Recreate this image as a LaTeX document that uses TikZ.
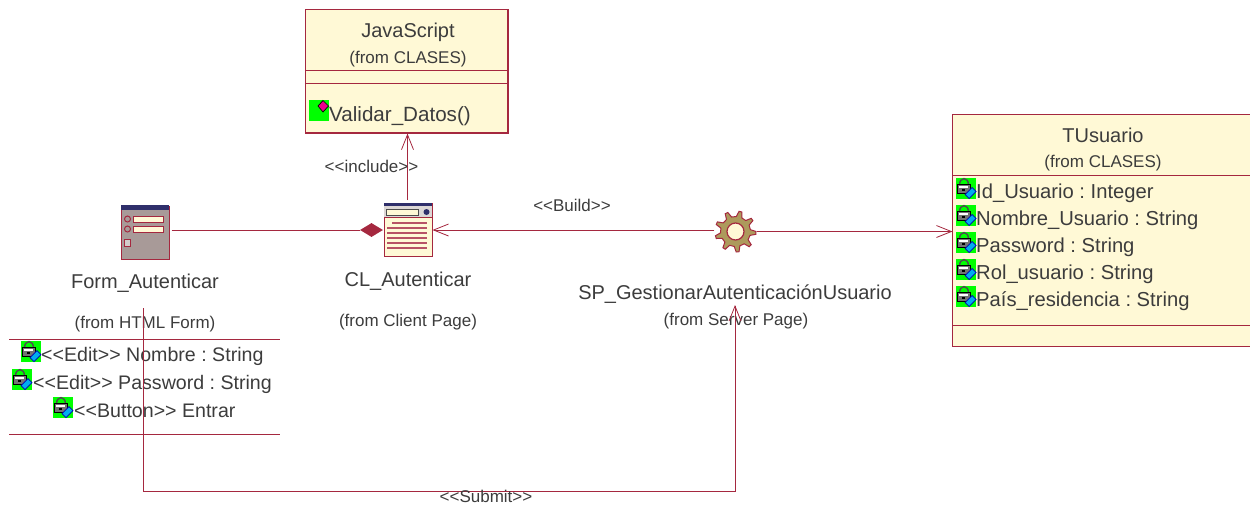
\documentclass[tikz,border=0pt]{standalone}
\usepackage{fontspec}
\setmainfont{Liberation Sans}
\frenchspacing
\usetikzlibrary{arrows.meta,shapes.geometric}
\definecolor{umlline}{HTML}{A5283F}
\definecolor{umlfill}{HTML}{FFF9D6}
\definecolor{umltext}{HTML}{3C3C3C}
\definecolor{umlnavy}{HTML}{2F2F6B}
\definecolor{umlgrey}{HTML}{A89A98}
\definecolor{umlgear}{HTML}{AD9A5C}
\tikzset{
  x=1pt,y=-1pt,
  umlbox/.style={draw=umlline,fill=umlfill,line width=1.1pt,rectangle,inner sep=0pt},
  conn/.style={draw=umlline,line width=0.9pt},
  openarrow/.style={conn,-{Straight Barb[length=15pt,width=12pt,line width=0.8pt]}},
  sep/.style={draw=umlline,line width=0.9pt},
  big/.style={font=\fontsize{20}{22}\selectfont,text=umltext,inner sep=0pt,anchor=base},
  mid/.style={font=\fontsize{17}{19}\selectfont,text=umltext,inner sep=0pt,anchor=base},
  attr/.style={font=\fontsize{20.2}{22}\selectfont,text=umltext,inner sep=0pt,anchor=base west},
  icon/.style={rectangle,inner sep=0pt,minimum width=#1,minimum height=#1},
}
% private attribute icon: green square with padlock and blue tag
\newcommand{\lockicon}[2]{%
  \begin{scope}[shift={(#1,#2)}]
    \fill[green] (0,0) rectangle (20,21);
    \draw[black!70,line width=1.4pt] (3.5,7) .. controls (3.5,-1.5) and (12.5,-1.5) .. (12.5,7);
    \fill[black!55,draw=black,line width=0.7pt] (1.5,6.5) rectangle (14.5,15.5);
    \fill[white] (3,8) rectangle (12,9.5);
    \fill[black] (5.5,10.5) rectangle (8.5,12.5);
    \fill[cyan,draw=blue!70!black,line width=0.7pt] (9,16.5) -- (16,9.5) -- (20,13.5) -- (13,20.5) -- cycle;
  \end{scope}}
\begin{document}
\begin{tikzpicture}
\useasboundingbox (0,0) rectangle (1250,504);

% JavaScript class
\node[umlbox,minimum width=202.5pt,minimum height=123.5pt] (js) at (406.75,71.25) {};
\draw[sep] (js.west |- 0,70.5) -- (js.east |- 0,70.5);
\draw[sep] (js.west |- 0,83.7) -- (js.east |- 0,83.7);
\node[big] (jsname) at (408,37) {JavaScript};
\node[mid] (jsfrom) at (408,63) {(from CLASES)};
\fill[green] (309,100) rectangle (329,121);
\fill[magenta,draw=black,line width=0.7pt] (318,106) -- (323,100.5) -- (328.5,106) -- (323,112) -- cycle;
\node[attr,font=\fontsize{20.6}{22}\selectfont] (jsop) at (329,121) {Validar\_Datos()};

% TUsuario class
\path[umlbox,draw=umlline] (1251,114.5) -- (952.7,114.5) -- (952.7,346.7) -- (1251,346.7);
\node[icon=0pt] (tu) at (952.7,231.5) {};
\draw[sep] (952.7,175.3) -- (1250,175.3);
\draw[sep] (952.7,325) -- (1250,325);
\node[big] (tuname) at (1103,142) {TUsuario};
\node[mid] (tufrom) at (1103,167) {(from CLASES)};
\lockicon{956}{178}
\lockicon{956}{205}
\lockicon{956}{232}
\lockicon{956}{259}
\lockicon{956}{286}
\node[attr] (a1) at (976,198) {Id\_Usuario : Integer};
\node[attr] (a2) at (976,225) {Nombre\_Usuario : String};
\node[attr] (a3) at (976,252) {Password : String};
\node[attr] (a4) at (976,279) {Rol\_usuario : String};
\node[attr] (a5) at (976,306) {País\_residencia : String};

% Form_Autenticar icon
\node[icon=0pt,draw=umlline,fill=umlgrey,line width=1pt,minimum width=48pt,minimum height=53pt] (form) at (145,232.5) {};
\fill[umlnavy] (121,205) rectangle (169,210);
\fill[umlfill,draw=umlline,line width=0.9pt] (133,216) rectangle (163,222);
\fill[umlfill,draw=umlline,line width=0.9pt] (133,226) rectangle (163,232);
\draw[umlline,fill=umlgrey,line width=1pt] (127.5,219) circle (3pt);
\draw[umlline,fill=umlgrey,line width=1pt] (127.5,229) circle (3pt);
\draw[umlline,fill=umlgrey!50!white,line width=0.9pt] (124.5,239) rectangle (130.5,246);
\node[big] (formname) at (145,288) {Form\_Autenticar};
\node[mid] (formfrom) at (145,328) {(from HTML Form)};
\draw[sep] (9,339) -- (280,339);
\draw[sep] (9,434) -- (280,434);
\lockicon{21}{341}
\lockicon{12}{369}
\lockicon{53}{397}
\node[attr,font=\fontsize{19.6}{22}\selectfont] (f1) at (41,361) {<{}<Edit>{}> Nombre : String};
\node[attr,font=\fontsize{19.6}{22}\selectfont] (f2) at (33,389) {<{}<Edit>{}> Password : String};
\node[attr,font=\fontsize{19.6}{22}\selectfont] (f3) at (74,417) {<{}<Button>{}> Entrar};
\coordinate (formdown) at (143.5,308);

% CL_Autenticar icon
\node[icon=0pt,draw=umlline,fill=umlfill,line width=1pt,minimum width=48pt,minimum height=53pt] (cl) at (408,229.5) {};
\fill[umlnavy] (384,203) rectangle (432,206);
\fill[umlgrey!40!white] (384,206) rectangle (432,217);
\draw[black!70,fill=umlfill,line width=1pt] (386,209) rectangle (418,215);
\fill[umlnavy] (426.5,212) circle (3pt);
\draw[umlline,line width=1pt] (384,217) -- (432,217);
\foreach \yy/\xs in {223/392,228/387,233/387,238/387,243/387,248/387}{
  \draw[umlline!80,line width=1.1pt] (\xs,\yy) -- (427,\yy);
}
\node[big] (clname) at (408,286) {CL\_Autenticar};
\node[mid] (clfrom) at (408,326) {(from Client Page)};

% Gear icon
\node[circle,inner sep=0pt,minimum size=42pt] (gear) at (735.5,231.5) {};
\begin{scope}[shift={(735.5,231.5)}]
  \draw[umlline,fill=umlgear,line width=1pt]
    (8:20.5) \foreach \a in {0,40,...,320}{
      -- (\a+8:20.5) -- (\a+15:15) -- (\a+33:15) -- (\a+40:20.5)
    } -- cycle;
  \draw[umlline,fill=umlfill,line width=1.2pt] (0,0) circle (8.5pt);
\end{scope}
\node[big] (gearname) at (735,299) {SP\_GestionarAutenticaciónUsuario};
\node[mid] (gearfrom) at (736,325) {(from Server Page)};

% Connectors
\draw[conn] (form.east |- 0,230.5) ++(2,0) -- (360,230.5);
\node[diamond,fill=umlline,inner sep=0pt,minimum width=23pt,minimum height=14pt] (dm) at (371.5,230) {};
\draw[openarrow] (407.5,200) -- (js.south -| 407.5,0);
\draw[openarrow] (gear.west |- 0,230) -- (cl.east |- 0,230);
\draw[openarrow] (gear.east |- 0,231.5) -- (tu.west);
\draw[openarrow] (formdown) -- (143.5,491) -- (735,491) -- (735,305);

% Connector labels
\node[mid] (linc) at (371.5,172) {<{}<include>{}>};
\node[mid] (lbuild) at (572,211) {<{}<Build>{}>};
\node[mid] (lsub) at (486,502) {<{}<Submit>{}>};
\end{tikzpicture}
\end{document}
